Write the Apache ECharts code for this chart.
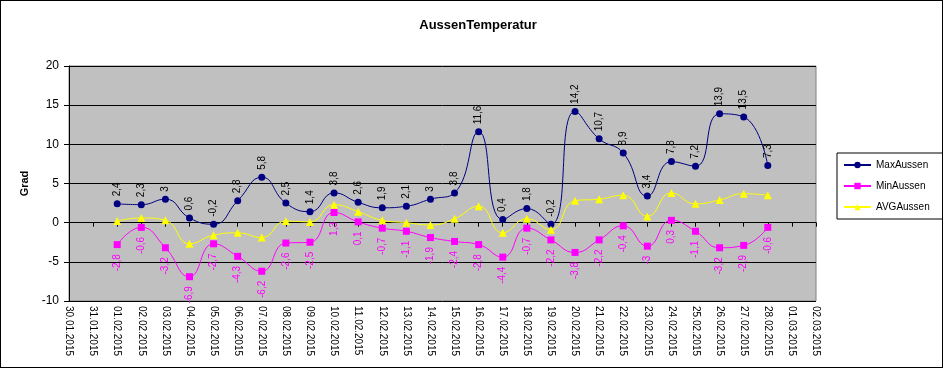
<!DOCTYPE html>
<html>
<head>
<meta charset="utf-8">
<script src="https://cdn.jsdelivr.net/npm/echarts@6/dist/echarts.min.js"></script>
<style>
html,body{margin:0;padding:0;background:#fff;}
#c{width:943px;height:368px;box-sizing:border-box;border:1px solid #000;}
</style>
</head>
<body>
<div id="c"></div>
<script>
var categories = ['30.01.2015','31.01.2015','01.02.2015','02.02.2015','03.02.2015','04.02.2015','05.02.2015','06.02.2015','07.02.2015','08.02.2015','09.02.2015','10.02.2015','11.02.2015','12.02.2015','13.02.2015','14.02.2015','15.02.2015','16.02.2015','17.02.2015','18.02.2015','19.02.2015','20.02.2015','21.02.2015','22.02.2015','23.02.2015','24.02.2015','25.02.2015','26.02.2015','27.02.2015','28.02.2015','01.03.2015','02.03.2015'];
var maxAussen = [null,null,2.4,2.3,3,0.6,-0.2,2.8,5.8,2.5,1.4,3.8,2.6,1.9,2.1,3,3.8,11.6,0.4,1.8,-0.2,14.2,10.7,8.9,3.4,7.8,7.2,13.9,13.5,7.3,null,null];
var minAussen = [null,null,-2.8,-0.6,-3.2,-6.9,-2.7,-4.3,-6.2,-2.6,-2.5,1.3,0.1,-0.7,-1.1,-1.9,-2.4,-2.8,-4.4,-0.7,-2.2,-3.8,-2.2,-0.4,-3,0.3,-1.1,-3.2,-2.9,-0.6,null,null];
var avgAussen = [null,null,0.2,0.6,0.3,-2.7,-1.6,-1.3,-1.9,0.2,0.1,2.3,1.4,0.3,0,-0.3,0.5,2.1,-1.3,0.5,-0.9,2.8,3.0,3.5,0.8,3.8,2.4,2.9,3.7,3.5,null,null];
var yTicks = [-10,-5,0,5,10,15,20];

var FONT = 'Liberation Sans, Arial, sans-serif';
function fmt(p){ return String(p.value).replace('.', ','); }

var chart = echarts.init(document.getElementById('c'));
chart.setOption({
  animation: false,
  backgroundColor: '#fff',
  title: {
    text: 'AussenTemperatur',
    left: 472, top: 13, textAlign: 'center',
    textStyle: {fontFamily: FONT, fontSize: 13, fontWeight: 'bold', color: '#000'}
  },
  legend: {
    orient: 'vertical',
    left: 836, top: 152,
    padding: [7, 16, 7, 6],
    itemWidth: 27, itemHeight: 8, itemGap: 11,
    borderColor: '#000', borderWidth: 1, backgroundColor: '#fff',
    textStyle: {fontFamily: FONT, fontSize: 10, color: '#000'},
    data: ['MaxAussen','MinAussen','AVGAussen']
  },
  grid: {
    left: 68, right: 126, top: 65, bottom: 66,
    show: true, backgroundColor: '#C0C0C0', borderColor: '#808080', borderWidth: 1
  },
  xAxis: [{
    type: 'category', data: categories, boundaryGap: false,
    position: 'bottom',
    axisLine: {show: false, onZero: false},
    axisTick: {show: false},
    axisLabel: {rotate: -90, interval: 0, margin: 5, fontFamily: FONT, fontSize: 10, color: '#000'}
  },{
    type: 'category', data: categories, boundaryGap: false,
    position: 'bottom',
    axisLine: {show: true, onZero: true, lineStyle: {color: '#000', width: 1}},
    axisTick: {show: true, interval: 0, length: 4, lineStyle: {color: '#000'}},
    axisLabel: {show: false}
  }],
  yAxis: {
    type: 'value', min: -10, max: 20, interval: 5,
    name: 'Grad', nameLocation: 'middle', nameRotate: 90, nameGap: 37,
    nameTextStyle: {fontFamily: FONT, fontSize: 11, fontWeight: 'bold', color: '#000'},
    axisLine: {show: true, lineStyle: {color: '#000'}},
    axisTick: {show: true, length: 5, lineStyle: {color: '#000'}},
    axisLabel: {margin: 10, fontFamily: FONT, fontSize: 12, color: '#000',
      formatter: function(v){ return yTicks.indexOf(v) >= 0 ? String(v) : ''; }},
    splitLine: {show: true, lineStyle: {color: '#000', width: 1}}
  },
  series: [{
    name: 'MaxAussen', type: 'line', data: maxAussen, smooth: 0.5,
    symbol: 'circle', symbolSize: 7, showAllSymbol: true,
    itemStyle: {color: '#000080'}, lineStyle: {color: '#000080', width: 1},
    label: {show: true, position: 'top', distance: 4, rotate: 90, align: 'left', verticalAlign: 'middle',
      fontFamily: FONT, fontSize: 10, color: '#000', formatter: fmt}
  },{
    name: 'MinAussen', type: 'line', data: minAussen, smooth: 0.5,
    symbol: 'rect', symbolSize: 7, showAllSymbol: true,
    itemStyle: {color: '#FF00FF'}, lineStyle: {color: '#FF00FF', width: 1},
    label: {show: true, position: 'bottom', distance: 6, rotate: 90, align: 'right', verticalAlign: 'middle',
      fontFamily: FONT, fontSize: 10, color: '#FF00FF', formatter: fmt}
  },{
    name: 'AVGAussen', type: 'line', data: avgAussen, smooth: 0.5,
    symbol: 'triangle', symbolSize: 8, showAllSymbol: true,
    itemStyle: {color: '#FFFF00'}, lineStyle: {color: '#FFFF00', width: 1}
  }]
});
</script>
</body>
</html>
